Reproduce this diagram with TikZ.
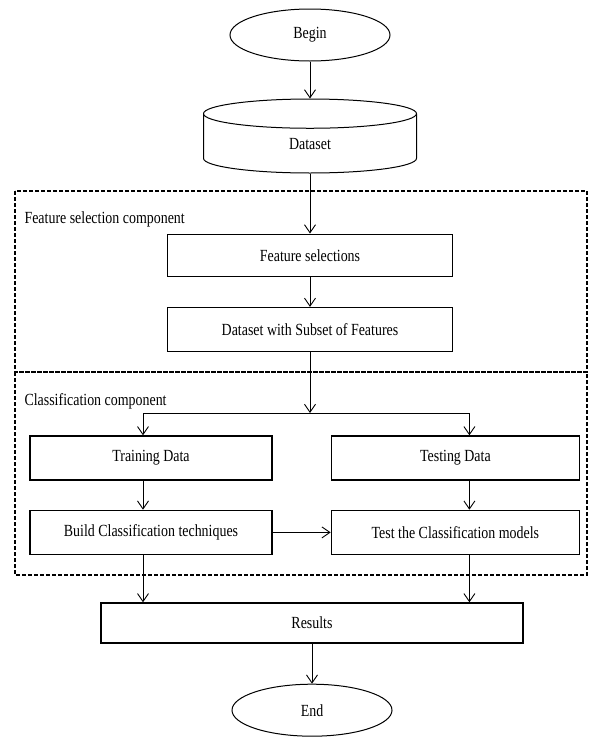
\documentclass[tikz,border=0pt]{standalone}
\usepackage{fontspec}
\setmainfont{Liberation Serif}[FakeStretch=0.82]
\usepackage{tikz}
\usetikzlibrary{arrows.meta,positioning,shapes.geometric}

\begin{document}
\begin{tikzpicture}[node distance=30pt and 58pt, every node/.style={font=\fontsize{17}{19}\selectfont,align=center},
box/.style={draw,line width=1.4pt,minimum height=44pt,inner sep=2pt},
term/.style={draw,ellipse,line width=1pt,minimum width=160pt,minimum height=52pt,inner sep=0pt},
store/.style={draw,cylinder,shape border rotate=90,aspect=0.7,line width=1pt,minimum width=213pt,minimum height=74pt,inner sep=0pt},
frame/.style={draw,dashed,dash pattern=on 4pt off 2pt,line width=1.4pt},
arrow/.style={-{Straight Barb[length=8pt,width=11pt]},line width=0.9pt}]
\useasboundingbox (0,0) rectangle (590pt,-737pt);
% component frames
\draw[frame] (15pt,-191pt) rectangle (587pt,-372pt);
\draw[frame] (15pt,-372pt) rectangle (587pt,-575pt);
\node[anchor=west] (fslabel) at (21pt,-219pt) {Feature selection component};
\node[anchor=west] (cllabel) at (21pt,-401pt) {Classification component};
% main flow
\node[term] (begin) at (310pt,-35pt) {Begin};
\node[store,below=37pt of begin] (data) {Dataset};
\node[box,minimum width=285pt,minimum height=42pt,below=60pt of data] (select) {Feature selections};
\node[box,minimum width=285pt,below=30pt of select] (subset) {Dataset with Subset of Features};
\node[box,minimum width=242pt,below=83pt of subset,xshift=-159pt] (train) {Training Data};
\node[box,minimum width=248pt,right=of train] (test) {Testing Data};
\node[box,minimum width=242pt,below=29pt of train] (build) {Build Classification techniques};
\node[box,minimum width=248pt,below=29pt of test] (models) {Test the Classification models};
\node[box,minimum width=422pt,minimum height=40pt] (results) at (312pt,-623pt) {Results};
\node[term,below=40pt of results] (end) {End};
\coordinate (split) at (subset.south |- 0,-413pt);
\draw[arrow] (begin)--(data);
\draw[arrow] (data)--(select);
\draw[arrow] (select)--(subset);
\draw[arrow] (subset)--(split);
\draw[arrow] (split) -| ([xshift=-8pt]train.north);
\draw[arrow] (split) -| ([xshift=14pt]test.north);
\draw[arrow] ([xshift=-8pt]train.south)--([xshift=-8pt]build.north);
\draw[arrow] ([xshift=14pt]test.south)--([xshift=14pt]models.north);
\draw[arrow] (build)--(models);
\draw[arrow] ([xshift=-8pt]build.south)--([xshift=-8pt]build.south |- results.north);
\draw[arrow] ([xshift=14pt]models.south)--([xshift=14pt]models.south |- results.north);
\draw[arrow] (results)--(end);
\end{tikzpicture}
\end{document}
